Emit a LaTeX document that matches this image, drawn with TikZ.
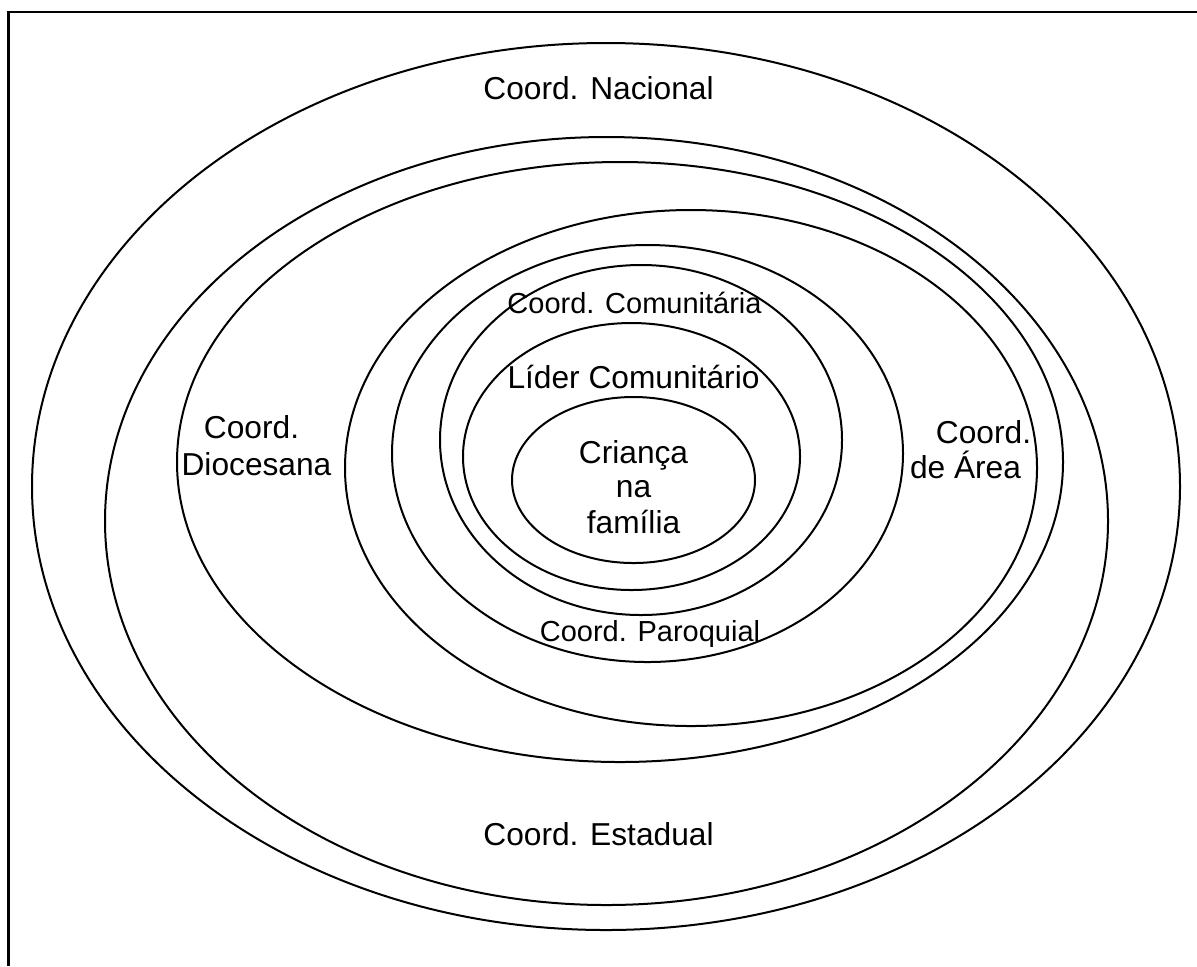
\documentclass[tikz,border=0pt]{standalone}
\usepackage{fontspec}
\setmainfont{Liberation Sans}
\begin{document}
\begin{tikzpicture}[x=0.5pt,y=-0.5pt,
  ring/.style={draw=black, line width=1pt},
  big/.style={font=\fontsize{15.85}{19}\selectfont, inner sep=0pt, anchor=base},
  small/.style={font=\fontsize{14.5}{17.5}\selectfont, inner sep=0pt, anchor=base}]
\path[use as bounding box] (0,0) rectangle (1197,966);
% page frame (left and top edges)
\draw[line width=1.15pt] (8.5,966) -- (8.5,12) -- (1197,12);

% nested levels, outermost first
\draw[ring] (606,486.5)   ellipse [x radius=287pt,    y radius=221.75pt];
\draw[ring] (606.5,521)   ellipse [x radius=250.75pt, y radius=192pt];
\draw[ring] (620,462)     ellipse [x radius=221.5pt,  y radius=150pt];
\draw[ring] (691,468)     ellipse [x radius=173pt,    y radius=129pt];
\draw[ring] (647.5,453.5) ellipse [x radius=127.75pt, y radius=104.25pt];
\draw[ring] (641,440)     ellipse [x radius=100.5pt,  y radius=87.5pt];
\draw[ring] (631.5,456.5) ellipse [x radius=84.25pt,  y radius=66.75pt];
\draw[ring] (633.5,480)   ellipse [x radius=60.75pt,  y radius=41.5pt];

% level labels
\node[big] (nac) at (598.5,99) {Coord. Nacional};
\node[big] (est) at (598.5,845) {Coord. Estadual};
\node[big] (dio1) at (251.5,438) {Coord.};
\node[big] (dio2) at (256.5,475) {Diocesana};
\node[big] (are1) at (983.5,443) {Coord.};
\node[big] (are2) at (965.5,478) {de Área};
\node[small] (par) at (650,641) {Coord. Paroquial};
\node[small] (com) at (634.5,313) {Coord. Comunitária};
\node[big] (lid) at (633.5,388) {Líder Comunitário};
\node[big] (cri1) at (633.5,463) {Criança};
\node[big] (cri2) at (633.5,497) {na};
\node[big] (cri3) at (633.5,533) {família};
\end{tikzpicture}
\end{document}
